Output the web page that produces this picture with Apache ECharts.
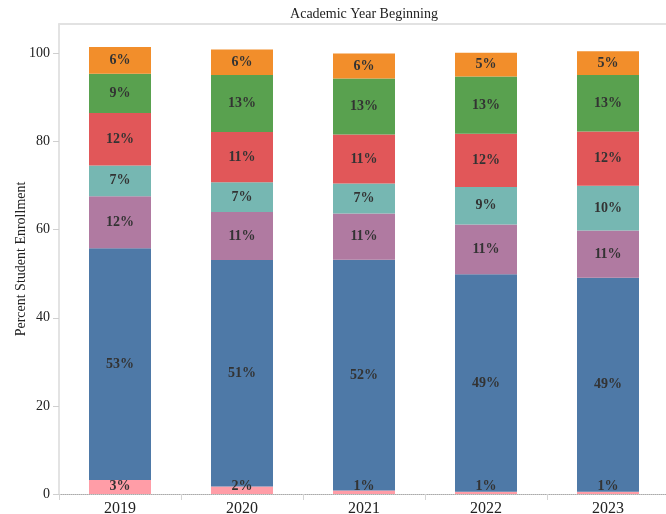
<!DOCTYPE html>
<html>
<head>
<meta charset="utf-8">
<style>
  html, body { margin: 0; padding: 0; background: #fff; }
  #chart { width: 666px; height: 514px; }
</style>
<script src="https://cdn.jsdelivr.net/npm/echarts@6/dist/echarts.min.js"></script>
</head>
<body>
<div id="chart"></div>
<script>
const years = ['2019', '2020', '2021', '2022', '2023'];
const yTicks = [0, 20, 40, 60, 80, 100];
// Segments from bottom to top (percent of enrollment)
const pinkVals   = [3.2, 1.7, 0.8, 0.5, 0.5];
const blueVals   = [52.6, 51.4, 52.4, 49.4, 48.6];
const purpleVals = [11.8, 10.9, 10.5, 11.3, 10.7];
const tealVals   = [7.0, 6.8, 6.8, 8.5, 10.2];
const redVals    = [11.9, 11.4, 11.1, 12.1, 12.3];
const greenVals  = [8.9, 12.9, 12.7, 13.0, 12.8];
const orangeVals = [6.1, 5.8, 5.7, 5.4, 5.4];

const seriesDefs = [
  { name: 'Pink', data: pinkVals, color: '#FF9DA7', pos: 'insideBottom' },
  { name: 'Blue', data: blueVals, color: '#4E79A7' },
  { name: 'Purple', data: purpleVals, color: '#B07AA1' },
  { name: 'Teal', data: tealVals, color: '#76B7B2' },
  { name: 'Red', data: redVals, color: '#E15759' },
  { name: 'Green', data: greenVals, color: '#59A14F' },
  { name: 'Orange', data: orangeVals, color: '#F28E2B' }
];

const serif = '"Liberation Serif", "DejaVu Serif", serif';
const chart = echarts.init(document.getElementById('chart'), null, { renderer: 'canvas' });

chart.setOption({
  animation: false,
  grid: { left: 59, top: 24, width: 610, height: 470, containLabel: false, outerBoundsMode: 'none' },
  xAxis: [
    {
      type: 'category',
      data: years,
      position: 'bottom',
      axisLine: { show: true, lineStyle: { color: '#aaaaaa', type: 'dotted', width: 1 } },
      axisTick: { show: true, alignWithLabel: false, length: 6, lineStyle: { color: '#d4d4d4' } },
      axisLabel: { color: '#222', fontFamily: serif, fontSize: 16, margin: 7 },
      splitLine: { show: false }
    },
    {
      type: 'category',
      data: years,
      position: 'top',
      name: 'Academic Year Beginning',
      nameLocation: 'middle',
      nameGap: 3,
      nameMoveOverlap: false,
      nameTextStyle: { color: '#222', fontFamily: serif, fontSize: 14 },
      axisLine: { show: true, lineStyle: { color: '#e2e2e2', width: 2 } },
      axisTick: { show: false },
      axisLabel: { show: false }
    }
  ],
  yAxis: {
    type: 'value',
    min: 0,
    max: 106.7,
    interval: 20,
    name: 'Percent Student Enrollment',
    nameLocation: 'middle',
    nameGap: 31,
    nameMoveOverlap: false,
    nameRotate: 90,
    nameTextStyle: { color: '#222', fontFamily: serif, fontSize: 14 },
    axisLine: { show: true, lineStyle: { color: '#dadada', width: 1.5 } },
    axisTick: { show: true, length: 6, customValues: yTicks, lineStyle: { color: '#cfcfcf' } },
    axisLabel: { customValues: yTicks, color: '#222', fontFamily: serif, fontSize: 14, margin: 9 },
    splitLine: { show: false }
  },
  series: seriesDefs.map(s => ({
    name: s.name,
    type: 'bar',
    stack: 'total',
    barWidth: 62,
    data: s.data,
    itemStyle: { color: s.color },
    label: {
      show: true,
      position: s.pos || 'inside',
      distance: 1,
      formatter: p => Math.round(p.value) + '%',
      color: '#333',
      fontFamily: serif,
      fontWeight: 'bold',
      fontSize: 14
    }
  }))
});
</script>
</body>
</html>
